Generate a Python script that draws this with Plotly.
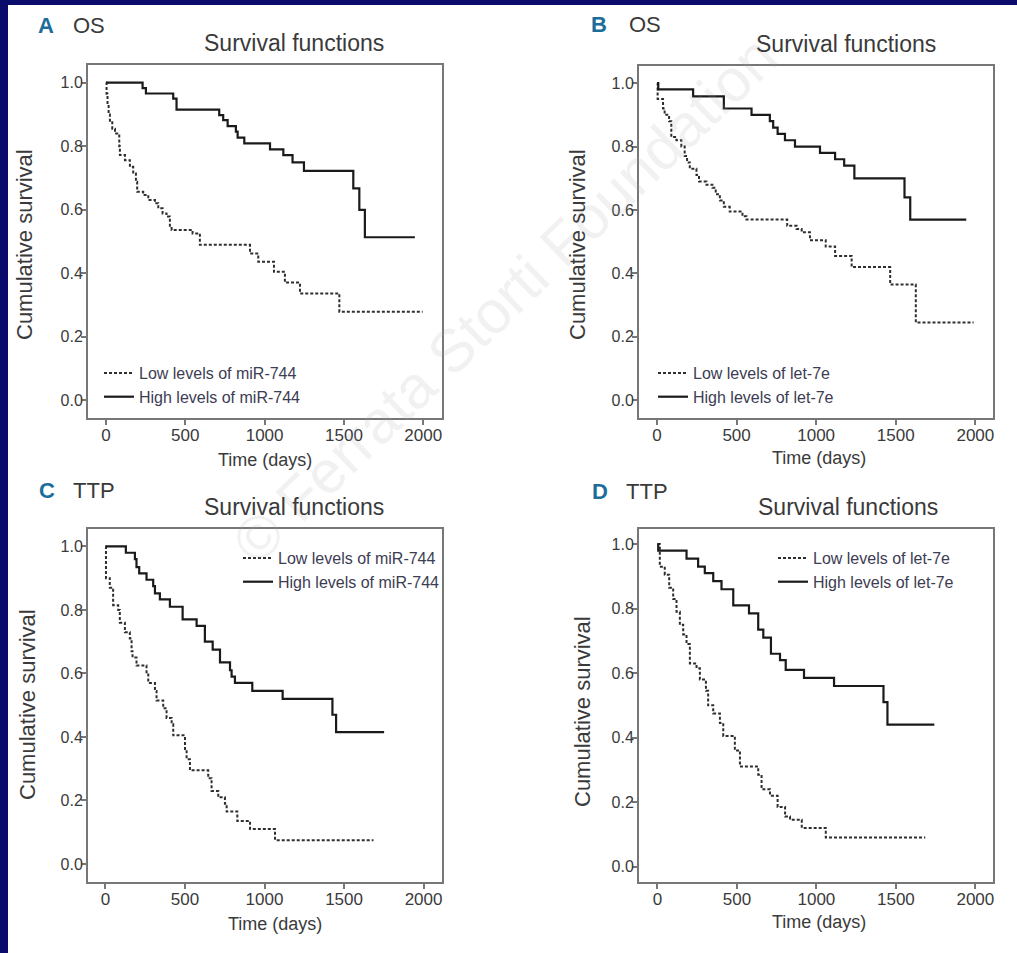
import plotly.graph_objects as go

# ---------------- data (Kaplan-Meier step points: time in days, cumulative survival) -------------
# Panel A : OS, miR-744
a_low_t = [0, 4, 10, 17, 25, 40, 57, 84, 88, 120, 151, 172, 189, 197, 235, 267, 309, 330, 357, 382,
           403, 414, 546, 592, 908, 960, 1059, 1128, 1223, 1471, 1996]
a_low_s = [1.0, 0.965, 0.93, 0.90, 0.875, 0.855, 0.84, 0.80, 0.772, 0.756, 0.735, 0.714, 0.688, 0.656,
           0.646, 0.63, 0.62, 0.604, 0.588, 0.578, 0.546, 0.536, 0.525, 0.489, 0.462, 0.436, 0.404,
           0.37, 0.336, 0.278, 0.278]
a_high_t = [0, 231, 252, 424, 445, 714, 739, 767, 819, 830, 872, 1034, 1118, 1176, 1248, 1559, 1597,
            1632, 1947]
a_high_s = [1.0, 0.983, 0.966, 0.95, 0.915, 0.898, 0.882, 0.863, 0.846, 0.827, 0.809, 0.79, 0.772,
            0.749, 0.722, 0.667, 0.599, 0.513, 0.513]

# Panel B : OS, let-7e
b_low_t = [0, 4, 38, 48, 76, 90, 122, 153, 174, 189, 206, 248, 264, 311, 348, 369, 395, 420, 457, 537,
           562, 818, 877, 909, 961, 1060, 1119, 1223, 1465, 1626, 1989]
b_low_s = [1.0, 0.95, 0.92, 0.90, 0.88, 0.83, 0.82, 0.80, 0.77, 0.75, 0.73, 0.71, 0.69, 0.68, 0.67,
           0.65, 0.63, 0.61, 0.595, 0.58, 0.57, 0.55, 0.54, 0.53, 0.505, 0.485, 0.455, 0.42, 0.365,
           0.245, 0.245]
b_high_t = [0, 8, 227, 420, 594, 709, 730, 758, 804, 867, 1024, 1119, 1176, 1240, 1555, 1591, 1943]
b_high_s = [1.0, 0.98, 0.958, 0.92, 0.90, 0.88, 0.86, 0.84, 0.82, 0.80, 0.78, 0.76, 0.74, 0.70, 0.64,
            0.57, 0.57]

# Panel C : TTP, miR-744
c_low_t = [0, 3, 27, 48, 80, 90, 122, 153, 164, 170, 195, 258, 269, 311, 321, 363, 384, 416, 426, 500,
           510, 531, 646, 667, 709, 751, 762, 829, 909, 1066, 1685]
c_low_s = [1.0, 0.90, 0.87, 0.815, 0.80, 0.76, 0.73, 0.71, 0.67, 0.65, 0.625, 0.60, 0.57, 0.545,
           0.515, 0.49, 0.46, 0.44, 0.405, 0.355, 0.33, 0.295, 0.27, 0.23, 0.21, 0.19, 0.165, 0.135,
           0.11, 0.075, 0.075]
c_high_t = [0, 128, 185, 195, 212, 258, 300, 311, 342, 405, 485, 573, 625, 674, 720, 783, 793, 814,
            923, 1114, 1427, 1450, 1752]
c_high_s = [1.0, 0.98, 0.96, 0.935, 0.915, 0.895, 0.875, 0.852, 0.833, 0.81, 0.77, 0.75, 0.70, 0.675,
            0.635, 0.61, 0.59, 0.57, 0.545, 0.52, 0.47, 0.415, 0.415]

# Panel D : TTP, let-7e
d_low_t = [0, 15, 46, 74, 99, 120, 141, 162, 183, 204, 246, 267, 305, 319, 351, 393, 414, 487, 519,
           634, 655, 708, 756, 803, 834, 908, 1059, 1685]
d_low_s = [1.0, 0.93, 0.905, 0.865, 0.83, 0.79, 0.75, 0.72, 0.69, 0.63, 0.615, 0.58, 0.545, 0.50,
           0.475, 0.445, 0.405, 0.36, 0.31, 0.285, 0.24, 0.22, 0.185, 0.155, 0.145, 0.12, 0.09, 0.09]
d_high_t = [0, 5, 183, 256, 298, 351, 403, 477, 576, 634, 666, 714, 771, 807, 922, 1111, 1422, 1447,
            1742]
d_high_s = [1.0, 0.98, 0.955, 0.93, 0.91, 0.885, 0.86, 0.81, 0.785, 0.735, 0.71, 0.66, 0.64, 0.61,
            0.585, 0.56, 0.51, 0.44, 0.44]

x_ticks = [0, 500, 1000, 1500, 2000]
y_ticks = [0.0, 0.2, 0.4, 0.6, 0.8, 1.0]
y_tick_text = ["0.0", "0.2", "0.4", "0.6", "0.8", "1.0"]

panel_letters = ["A", "B", "C", "D"]
panel_endpoints = ["OS", "OS", "TTP", "TTP"]
panel_title = "Survival functions"
low_names = ["Low levels of miR-744", "Low levels of let-7e", "Low levels of miR-744", "Low levels of let-7e"]
high_names = ["High levels of miR-744", "High levels of let-7e", "High levels of miR-744", "High levels of let-7e"]

# ---------------- layout helpers ----------------
W, H = 1017, 953
FONT = "Liberation Sans, Arial, sans-serif"
TXT = "#3a3a3a"
AX = "#777777"


def px(x):
    return x / W


def py(y):
    return 1 - y / H


# plot boxes in pixels (left, right, top, bottom) and axis ranges
boxes = [
    (88, 442, 65, 418),
    (639, 993, 66, 418),
    (88, 442, 529, 882),
    (639, 993, 529, 882),
]
x_ranges = [(-113, 2118), (-113, 2111), (-110, 2116), (-116, 2111)]
y_ranges = [(-0.0567, 1.0558), (-0.0557, 1.054), (-0.0567, 1.0548), (-0.0478, 1.0469)]

data = [
    (a_low_t, a_low_s, a_high_t, a_high_s),
    (b_low_t, b_low_s, b_high_t, b_high_s),
    (c_low_t, c_low_s, c_high_t, c_high_s),
    (d_low_t, d_low_s, d_high_t, d_high_s),
]

fig = go.Figure()
legend_keys = ["legend", "legend2", "legend3", "legend4"]

for i, (lt, ls, ht, hs) in enumerate(data):
    xa = "x" if i == 0 else f"x{i+1}"
    ya = "y" if i == 0 else f"y{i+1}"
    fig.add_trace(go.Scatter(x=lt, y=ls, mode="lines", line=dict(shape="hv", color="#2e2e2e", width=2,
                                                                   dash="3px,2px"),
                             name=low_names[i], xaxis=xa, yaxis=ya, legend=legend_keys[i],
                             hoverinfo="skip"))
    fig.add_trace(go.Scatter(x=ht, y=hs, mode="lines", line=dict(shape="hv", color="#1a1a1a", width=2.2),
                             name=high_names[i], xaxis=xa, yaxis=ya, legend=legend_keys[i],
                             hoverinfo="skip"))

layout = dict(
    width=W, height=H,
    margin=dict(l=0, r=0, t=0, b=0),
    paper_bgcolor="#0b0b6b",
    plot_bgcolor="white",
    font=dict(family=FONT, color=TXT),
    showlegend=True,
)

for i, (l, r, t, b) in enumerate(boxes):
    xk = "xaxis" if i == 0 else f"xaxis{i+1}"
    yk = "yaxis" if i == 0 else f"yaxis{i+1}"
    xa_anchor = "y" if i == 0 else f"y{i+1}"
    ya_anchor = "x" if i == 0 else f"x{i+1}"
    layout[xk] = dict(domain=[px(l), px(r)], range=list(x_ranges[i]), anchor=xa_anchor,
                      tickvals=x_ticks, showline=True, mirror=True, linecolor=AX, linewidth=2,
                      ticks="outside", ticklen=5, tickwidth=1.5, tickcolor=AX, showgrid=False,
                      zeroline=False, tickfont=dict(size=17, color=TXT, family=FONT), fixedrange=True,
                      ticklabelstandoff=-4)
    layout[yk] = dict(domain=[py(b), py(t)], range=list(y_ranges[i]), anchor=ya_anchor,
                      tickvals=y_ticks, ticktext=y_tick_text, showline=True, mirror=True, linecolor=AX,
                      linewidth=2, ticks="outside", ticklen=5, tickwidth=1.5, tickcolor=AX,
                      showgrid=False, zeroline=False, tickfont=dict(size=16, color=TXT, family=FONT),
                      fixedrange=True, ticklabelstandoff=-5)

# legends: (left px, top px)
legend_pos = [(99, 356), (653, 356), (238, 541), (773, 541)]
for i, key in enumerate(legend_keys):
    lx, ly = legend_pos[i]
    layout[key] = dict(x=px(lx), y=py(ly), xanchor="left", yanchor="top", bgcolor="rgba(0,0,0,0)",
                       font=dict(size=16, color="#3c3c52", family=FONT), tracegroupgap=0,
                       itemwidth=30)

fig.update_layout(**layout)

# white page area inside navy frame
fig.add_shape(type="rect", xref="paper", yref="paper", x0=px(8), x1=1.0, y0=0.0, y1=py(5),
              fillcolor="white", line=dict(width=0), layer="below")

ann = []
# faint watermark
ann.append(dict(x=px(505), y=py(300), xref="paper", yref="paper", text="© Ferrata Storti Foundation",
                showarrow=False, textangle=-44, xanchor="center", yanchor="middle",
                font=dict(size=60, color="rgba(170,170,170,0.16)", family=FONT)))
# panel labels
label_pos = [(46, 26), (599, 25), (47, 490), (600, 491)]
end_pos = [(71, 26), (627, 25), (71, 490), (624, 491)]
title_pos = [(294, 43), (846, 44), (294, 507), (848, 507)]
ylab_pos = [(25, 245), (578, 245), (27, 705), (582, 712)]
xlab_pos = [(265, 460), (819, 458), (275, 924), (819, 922)]
for i in range(4):
    ann.append(dict(x=px(label_pos[i][0]), y=py(label_pos[i][1]), xref="paper", yref="paper",
                    text=f"<b>{panel_letters[i]}</b>", showarrow=False, xanchor="center", yanchor="middle",
                    font=dict(size=22, color="#1d6d9c", family=FONT)))
    ann.append(dict(x=px(end_pos[i][0]), y=py(end_pos[i][1]), xref="paper", yref="paper",
                    text=panel_endpoints[i], showarrow=False, xanchor="left", yanchor="middle",
                    font=dict(size=22, color=TXT, family=FONT)))
    ann.append(dict(x=px(title_pos[i][0]), y=py(title_pos[i][1]), xref="paper", yref="paper",
                    text=panel_title, showarrow=False, xanchor="center", yanchor="middle",
                    font=dict(size=23, color=TXT, family=FONT)))
    ann.append(dict(x=px(ylab_pos[i][0]), y=py(ylab_pos[i][1]), xref="paper", yref="paper",
                    text="Cumulative survival", showarrow=False, textangle=-90, xanchor="center",
                    yanchor="middle", font=dict(size=22, color=TXT, family=FONT)))
    ann.append(dict(x=px(xlab_pos[i][0]), y=py(xlab_pos[i][1]), xref="paper", yref="paper",
                    text="Time (days)", showarrow=False, xanchor="center", yanchor="middle",
                    font=dict(size=18, color=TXT, family=FONT)))

fig.update_layout(annotations=ann)
fig.write_html("out.html")
